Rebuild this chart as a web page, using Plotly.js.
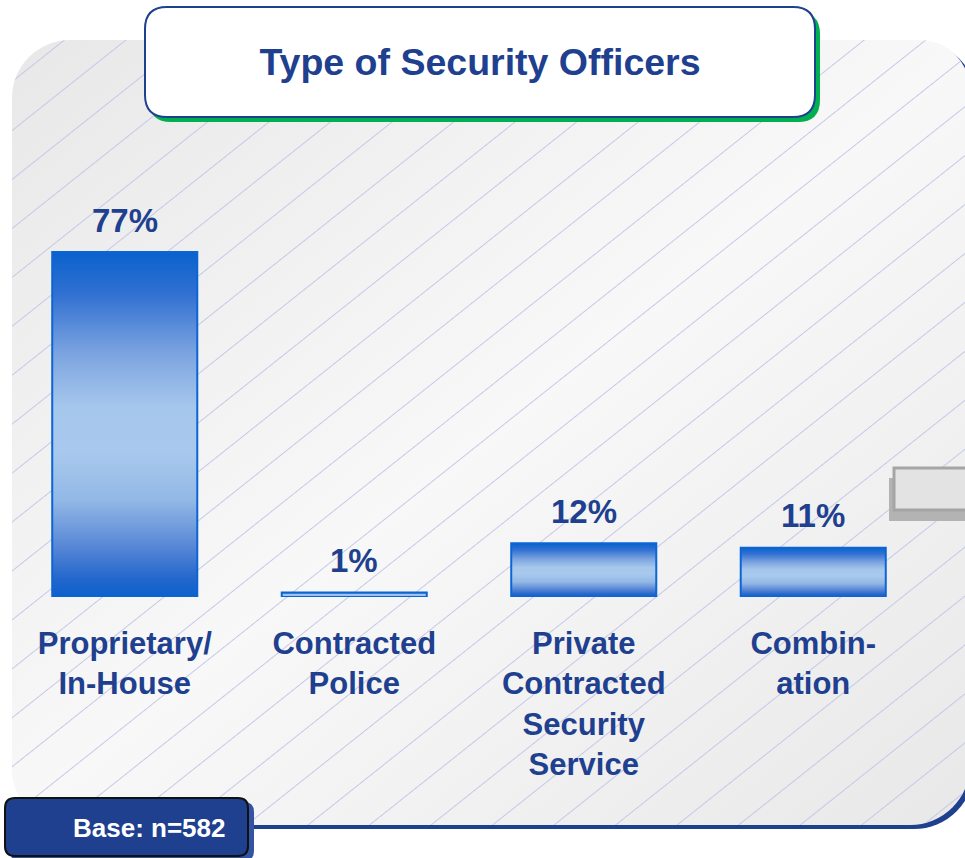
<!DOCTYPE html>
<html><head><meta charset="utf-8">
<script src="https://cdn.plot.ly/plotly-3.0.1.min.js"></script>
<style>
html,body{margin:0;padding:0;background:#ffffff;}
#wrap{position:relative;width:965px;height:858px;overflow:hidden;}
#bg{position:absolute;left:0;top:0;}
#chart{position:absolute;left:0;top:0;width:965px;height:858px;}
</style></head><body>
<div id="wrap">
<svg id="bg" width="965" height="858" xmlns="http://www.w3.org/2000/svg">
 <defs>
  <linearGradient id="panelGrad" x1="0" y1="0" x2="1" y2="1">
   <stop offset="0" stop-color="#e8e8e8"/>
   <stop offset="0.5" stop-color="#f8f8f8"/>
   <stop offset="1" stop-color="#e8e8e8"/>
  </linearGradient>
  <pattern id="hatch" patternUnits="userSpaceOnUse" width="38.3" height="20" x="32.6" y="0" patternTransform="rotate(51.5)">
   <line x1="0.5" y1="-1" x2="0.5" y2="21" stroke="#c0c4e6" stroke-width="0.9"/>
  </pattern>
  <linearGradient id="barGrad" x1="0" y1="0" x2="0" y2="1">
   <stop offset="0" stop-color="#0a62cc"/>
   <stop offset="0.12" stop-color="#3070d2"/>
   <stop offset="0.3" stop-color="#7ea5e0"/>
   <stop offset="0.45" stop-color="#a6c7ec"/>
   <stop offset="0.58" stop-color="#a8c9ed"/>
   <stop offset="0.72" stop-color="#92b8e6"/>
   <stop offset="0.85" stop-color="#5a88d6"/>
   <stop offset="0.95" stop-color="#2266cc"/>
   <stop offset="1" stop-color="#0a62cc"/>
  </linearGradient>
 </defs>
 <path id="shadowPath" fill="#1f3f8f"/>
 <path id="panelPath" fill="url(#panelGrad)"/>
 <path id="hatchPath" fill="url(#hatch)"/>
</svg>
<div id="chart"></div>
</div>
<script>
// ---- data ----
const categories = ["Proprietary/In-House", "Contracted Police", "Private Contracted Security Service", "Combination"];
const tickLabels = ["Proprietary/<br>In-House", "Contracted<br>Police", "Private<br>Contracted<br>Security<br>Service", "Combin-<br>ation"];
const percentValues = [77, 1, 12, 11];
const chartTitle = "Type of Security Officers";
const baseNote = "Base: n=582";

// ---- background panel (decoration) ----
function panel(x0, y0, x1, y1, rtl, rtr, rbr, rbl) {
  return `M${x0 + rtl},${y0} L${x1 - rtr},${y0} A${rtr},${rtr} 0 0 1 ${x1},${y0 + rtr} ` +
    `L${x1},${y1 - rbr} A${rbr},${rbr} 0 0 1 ${x1 - rbr},${y1} L${x0 + rbl},${y1} ` +
    `A${rbl},${rbl} 0 0 1 ${x0},${y1 - rbl} L${x0},${y0 + rtl} A${rtl},${rtl} 0 0 1 ${x0 + rtl},${y0} Z`;
}
const pPath = panel(12, 40, 970, 825, 58, 50, 60, 55);
document.getElementById("shadowPath").setAttribute("d", panel(16, 44, 974, 829, 58, 50, 60, 55));
document.getElementById("panelPath").setAttribute("d", pPath);
document.getElementById("hatchPath").setAttribute("d", pPath);

// ---- layout helpers ----
const W = 965, H = 858;
const M = {l: 10, r: 37, t: 149, b: 261};
const PW = W - M.l - M.r, PH = H - M.t - M.b;
const px = X => (X - M.l) / PW;
const py = Y => 1 - (Y - M.t) / PH;
function rr(x0, y0, x1, y1, r) {
  const P = (x, y) => px(x).toFixed(5) + "," + py(y).toFixed(5);
  return "M" + P(x0 + r, y0) + " L" + P(x1 - r, y0) + " Q" + P(x1, y0) + " " + P(x1, y0 + r) +
    " L" + P(x1, y1 - r) + " Q" + P(x1, y1) + " " + P(x1 - r, y1) +
    " L" + P(x0 + r, y1) + " Q" + P(x0, y1) + " " + P(x0, y1 - r) +
    " L" + P(x0, y0 + r) + " Q" + P(x0, y0) + " " + P(x0 + r, y0) + " Z";
}
const FONT = "Liberation Sans, Arial, Helvetica, sans-serif";
const NAVY = "#1f3f8f";

const trace = {
  type: "bar",
  x: categories,
  y: percentValues,
  width: 0.632,
  marker: {color: "#7ea5e0", line: {color: "#0a66d6", width: 2}},
  hoverinfo: "skip"
};

const valueAnnotations = categories.map((c, i) => ({
  x: c, y: percentValues[i], xref: "x", yref: "y",
  text: percentValues[i] + "%", showarrow: false,
  yshift: 32, yanchor: "middle", xanchor: "center",
  font: {family: FONT, size: 33, color: NAVY, weight: "bold"}
}));

const layout = {
  width: W, height: H,
  margin: M,
  paper_bgcolor: "rgba(0,0,0,0)",
  plot_bgcolor: "rgba(0,0,0,0)",
  showlegend: false,
  title: {
    text: chartTitle,
    font: {family: FONT, size: 37.5, color: NAVY, weight: "bold"},
    xref: "container", yref: "container",
    x: 480 / W, y: 1 - 62 / H, xanchor: "center", yanchor: "middle"
  },
  xaxis: {
    type: "category",
    range: [-0.5, 3.5],
    tickvals: categories,
    ticktext: tickLabels,
    ticks: "",
    showgrid: false, zeroline: false, showline: false,
    ticklabelstandoff: 25,
    tickfont: {family: FONT, size: 31, color: NAVY, weight: "bold"},
    fixedrange: true
  },
  yaxis: {range: [0, 100], visible: false, fixedrange: true},
  shapes: [
    {type: "path", xref: "paper", yref: "paper", path: rr(149, 12, 820, 122, 22), fillcolor: "#00b050", line: {width: 0}, layer: "above"},
    {type: "path", xref: "paper", yref: "paper", path: rr(145, 7, 815, 117, 22), fillcolor: "#ffffff", line: {color: NAVY, width: 2}, layer: "above"},
    {type: "rect", xref: "paper", yref: "paper", x0: px(889), x1: px(975), y0: py(478), y1: py(521), fillcolor: "#b3b3b3", line: {width: 0}, layer: "above"},
    {type: "rect", xref: "paper", yref: "paper", x0: px(894), x1: px(975), y0: py(468), y1: py(510), fillcolor: "#e3e3e3", line: {color: "#a5a5a5", width: 3}, layer: "above"},
    {type: "path", xref: "paper", yref: "paper", path: rr(10, 802, 254, 861, 10), fillcolor: "#3553a3", line: {width: 0}, layer: "above"},
    {type: "path", xref: "paper", yref: "paper", path: rr(5, 798, 248, 856, 10), fillcolor: NAVY, line: {color: "#111111", width: 2}, layer: "above"}
  ],
  annotations: valueAnnotations.concat([{
    xref: "paper", yref: "paper", x: px(149), y: py(828),
    text: baseNote, showarrow: false, xanchor: "center", yanchor: "middle",
    font: {family: FONT, size: 26, color: "#ffffff", weight: "bold"}
  }])
};

Plotly.newPlot("chart", [trace], layout, {staticPlot: true, displayModeBar: false}).then(() => {
  document.querySelectorAll("#chart .barlayer .point path").forEach(p => {
    p.style.fill = "url(#barGrad)";
  });
});
</script>
</body></html>
